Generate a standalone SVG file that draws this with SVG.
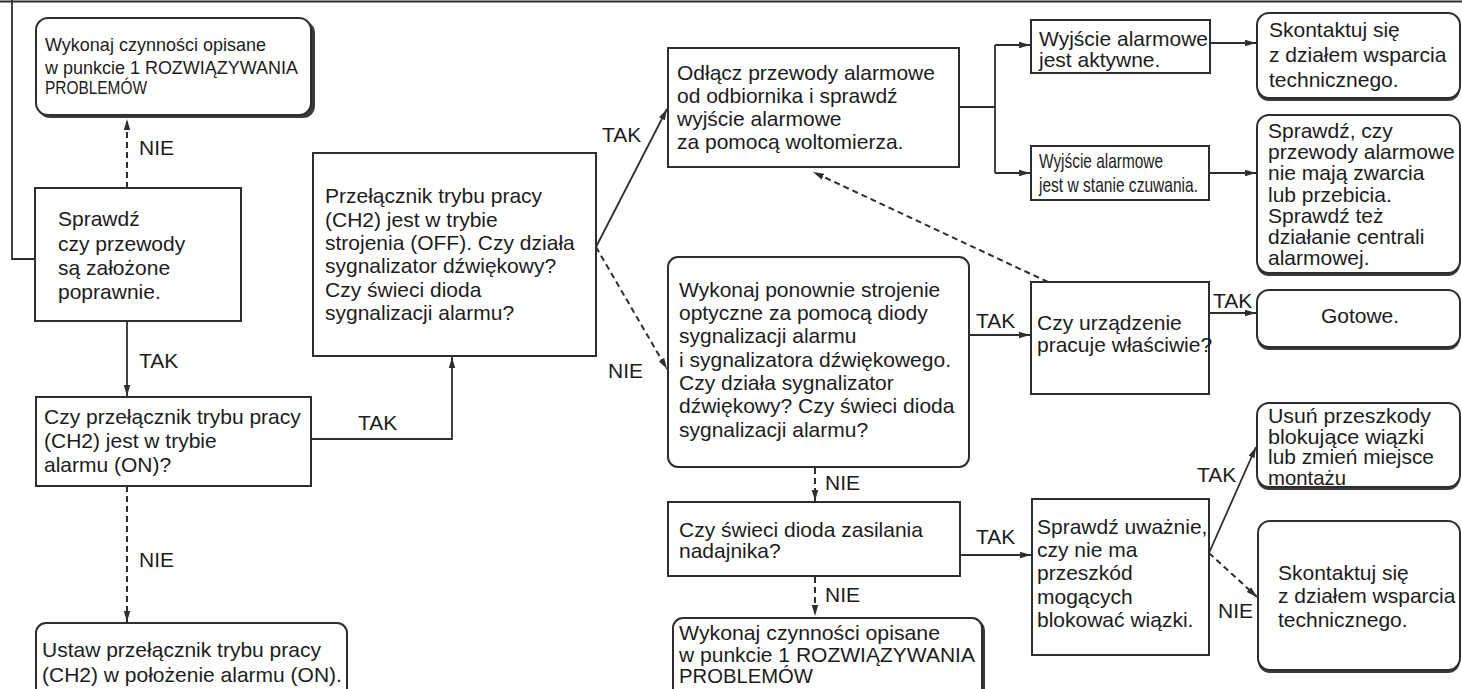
<svg xmlns="http://www.w3.org/2000/svg" width="1462" height="689" viewBox="0 0 1462 689">
<style>
text{font-family:"Liberation Sans",Arial,sans-serif;font-size:21px;fill:#1c1c1c}
.sm{font-size:19px}
.box{fill:#fff;stroke:#2e2e2e;stroke-width:2}
.sh{fill:#3a3a3a}
.ln{fill:none;stroke:#2e2e2e;stroke-width:1.8}
.ds{fill:none;stroke:#2e2e2e;stroke-width:2;stroke-dasharray:6 4}
</style>
<defs>
<marker id="ah" markerUnits="userSpaceOnUse" markerWidth="12" markerHeight="8" refX="11" refY="4" orient="auto">
<path d="M0,0.8 L11,4 L0,7.2 z" fill="#2e2e2e"/>
</marker>
</defs>
<rect width="1462" height="689" fill="#fff"/>

<g id="connectors">
<path class="ln" d="M0,1.5 H1462" stroke-width="3"/>
<path class="ln" d="M12,0 V259 H35"/>
<path class="ds" d="M127,188 V119" marker-end="url(#ah)"/>
<path class="ln" d="M127,321 V396" marker-end="url(#ah)"/>
<path class="ln" d="M311,439 H452 V357" marker-end="url(#ah)"/>
<path class="ds" d="M127,486 V622" marker-end="url(#ah)"/>
<path class="ln" d="M596,247 L667,109" marker-end="url(#ah)"/>
<path class="ds" d="M596,247 L667,369" marker-end="url(#ah)"/>
<path class="ln" d="M959,107 H995"/>
<path class="ln" d="M995,45 V173"/>
<path class="ln" d="M995,45 H1030" marker-end="url(#ah)"/>
<path class="ln" d="M995,173 H1030" marker-end="url(#ah)"/>
<path class="ln" d="M1210,43 H1256" marker-end="url(#ah)"/>
<path class="ln" d="M1209,173 H1256" marker-end="url(#ah)"/>
<path class="ds" d="M1048,282 L813,172" marker-end="url(#ah)"/>
<path class="ln" d="M969,335 H1030" marker-end="url(#ah)"/>
<path class="ln" d="M1209,313 H1256" marker-end="url(#ah)"/>
<path class="ds" d="M815,468 V501" marker-end="url(#ah)"/>
<path class="ds" d="M815,577 V616" marker-end="url(#ah)"/>
<path class="ln" d="M960,555 H1031" marker-end="url(#ah)"/>
<path class="ln" d="M1209,553 L1256,447" marker-end="url(#ah)"/>
<path class="ds" d="M1209,553 L1257,597" marker-end="url(#ah)"/>
<text x="139" y="155">NIE</text>
<text x="139" y="368">TAK</text>
<text x="358" y="430">TAK</text>
<text x="139" y="567">NIE</text>
<text x="602" y="142">TAK</text>
<text x="608" y="378">NIE</text>
<text x="825" y="490">NIE</text>
<text x="825" y="602">NIE</text>
<text x="976" y="544">TAK</text>
<text x="976" y="328">TAK</text>
<text x="1213" y="308">TAK</text>
<text x="1197" y="482">TAK</text>
<text x="1218" y="618">NIE</text>
</g>

<g id="n-wykonaj1">
<rect class="sh" x="38" y="21" width="277" height="97" rx="12"/>
<rect class="box" x="36" y="18" width="275" height="97" rx="12"/>
<text class="sm" x="45" y="51" textLength="221" lengthAdjust="spacingAndGlyphs">Wykonaj czynności opisane</text>
<text class="sm" x="45" y="74" textLength="253" lengthAdjust="spacingAndGlyphs">w punkcie 1 ROZWIĄZYWANIA</text>
<text class="sm" x="45" y="94" textLength="102" lengthAdjust="spacingAndGlyphs">PROBLEMÓW</text>
</g>

<g id="n-sprawdz">
<rect class="box" x="35" y="188" width="206" height="133"/>
<text x="58" y="226">Sprawdź</text>
<text x="58" y="251">czy przewody</text>
<text x="58" y="275">są założone</text>
<text x="58" y="299">poprawnie.</text>
</g>

<g id="n-czy-przelacznik">
<rect class="box" x="36" y="397" width="275" height="89"/>
<text x="44" y="424">Czy przełącznik trybu pracy</text>
<text x="44" y="448">(CH2) jest w trybie</text>
<text x="44" y="472">alarmu (ON)?</text>
</g>

<g id="n-ustaw">
<rect class="box" x="36" y="623" width="311" height="90" rx="10"/>
<text x="42" y="657">Ustaw przełącznik trybu pracy</text>
<text x="42" y="682">(CH2) w położenie alarmu (ON).</text>
</g>

<g id="n-przelacznik-off">
<rect class="box" x="313" y="153" width="283" height="203"/>
<text x="325" y="203">Przełącznik trybu pracy</text>
<text x="325" y="227">(CH2) jest w trybie</text>
<text x="325" y="250">strojenia (OFF). Czy działa</text>
<text x="325" y="273">sygnalizator dźwiękowy?</text>
<text x="325" y="297">Czy świeci dioda</text>
<text x="325" y="320">sygnalizacji alarmu?</text>
</g>

<g id="n-odlacz">
<rect class="box" x="668" y="48" width="291" height="119"/>
<text x="677" y="80">Odłącz przewody alarmowe</text>
<text x="677" y="103">od odbiornika i sprawdź</text>
<text x="677" y="126">wyjście alarmowe</text>
<text x="677" y="149">za pomocą woltomierza.</text>
</g>

<g id="n-aktywne">
<rect class="box" x="1031" y="20" width="179" height="53"/>
<text x="1039" y="46" font-size="20">Wyjście alarmowe</text>
<text x="1039" y="67" font-size="20">jest aktywne.</text>
</g>

<g id="n-czuwanie">
<rect class="box" x="1031" y="146" width="178" height="54"/>
<text x="1039" y="168" font-size="18" textLength="124" lengthAdjust="spacingAndGlyphs">Wyjście alarmowe</text>
<text x="1039" y="192" font-size="18" textLength="159" lengthAdjust="spacingAndGlyphs">jest w stanie czuwania.</text>
</g>

<g id="n-skontaktuj1">
<rect class="sh" x="1257" y="16" width="203" height="85" rx="12"/>
<rect class="box" x="1257" y="13" width="203" height="85" rx="12"/>
<text x="1269" y="37">Skontaktuj się</text>
<text x="1269" y="62">z działem wsparcia</text>
<text x="1269" y="87">technicznego.</text>
</g>

<g id="n-sprawdz-czy">
<rect class="sh" x="1257" y="118" width="203" height="158" rx="12"/>
<rect class="box" x="1257" y="115" width="203" height="158" rx="12"/>
<text x="1268" y="138">Sprawdź, czy</text>
<text x="1268" y="159">przewody alarmowe</text>
<text x="1268" y="180">nie mają zwarcia</text>
<text x="1268" y="202">lub przebicia.</text>
<text x="1268" y="223">Sprawdź też</text>
<text x="1268" y="244">działanie centrali</text>
<text x="1268" y="265">alarmowej.</text>
</g>

<g id="n-wykonaj-ponownie">
<rect class="box" x="668" y="257" width="301" height="210" rx="10"/>
<text x="679" y="297">Wykonaj ponownie strojenie</text>
<text x="679" y="320">optyczne za pomocą diody</text>
<text x="679" y="343">sygnalizacji alarmu</text>
<text x="679" y="367">i sygnalizatora dźwiękowego.</text>
<text x="679" y="390">Czy działa sygnalizator</text>
<text x="679" y="413">dźwiękowy? Czy świeci dioda</text>
<text x="679" y="437">sygnalizacji alarmu?</text>
</g>

<g id="n-czy-urzadzenie">
<rect class="box" x="1031" y="282" width="178" height="112"/>
<text x="1037" y="330">Czy urządzenie</text>
<text x="1037" y="352">pracuje właściwie?</text>
</g>

<g id="n-gotowe">
<rect class="sh" x="1257" y="293" width="203" height="57" rx="12"/>
<rect class="box" x="1257" y="290" width="203" height="57" rx="12"/>
<text x="1360" y="323" text-anchor="middle">Gotowe.</text>
</g>

<g id="n-czy-swieci">
<rect class="box" x="668" y="502" width="292" height="74"/>
<text x="679" y="537">Czy świeci dioda zasilania</text>
<text x="679" y="558">nadajnika?</text>
</g>

<g id="n-wykonaj2">
<rect class="sh" x="676" y="620" width="309" height="80" rx="10"/>
<rect class="box" x="673" y="618" width="309" height="80" rx="10"/>
<text x="679" y="640" textLength="261" lengthAdjust="spacingAndGlyphs">Wykonaj czynności opisane</text>
<text x="679" y="662" textLength="296" lengthAdjust="spacingAndGlyphs">w punkcie 1 ROZWIĄZYWANIA</text>
<text x="679" y="683" textLength="134" lengthAdjust="spacingAndGlyphs">PROBLEMÓW</text>
</g>

<g id="n-sprawdz-uwaznie">
<rect class="box" x="1032" y="499" width="177" height="156"/>
<text x="1037" y="534">Sprawdź uważnie,</text>
<text x="1037" y="557">czy nie ma</text>
<text x="1037" y="580">przeszkód</text>
<text x="1037" y="604">mogących</text>
<text x="1037" y="627">blokować wiązki.</text>
</g>

<g id="n-usun">
<rect class="sh" x="1257" y="406" width="203" height="84" rx="12"/>
<rect class="box" x="1257" y="403" width="203" height="84" rx="12"/>
<text x="1268" y="423" font-size="19" textLength="163" lengthAdjust="spacingAndGlyphs">Usuń przeszkody</text>
<text x="1268" y="443.5" font-size="19" textLength="156" lengthAdjust="spacingAndGlyphs">blokujące wiązki</text>
<text x="1268" y="464" font-size="19" textLength="166" lengthAdjust="spacingAndGlyphs">lub zmień miejsce</text>
<text x="1268" y="484.5" font-size="19" textLength="78" lengthAdjust="spacingAndGlyphs">montażu</text>
</g>

<g id="n-skontaktuj2">
<rect class="sh" x="1258" y="524" width="202" height="149" rx="12"/>
<rect class="box" x="1258" y="521" width="202" height="149" rx="12"/>
<text x="1278" y="580">Skontaktuj się</text>
<text x="1278" y="603">z działem wsparcia</text>
<text x="1278" y="627">technicznego.</text>
</g>
</svg>
